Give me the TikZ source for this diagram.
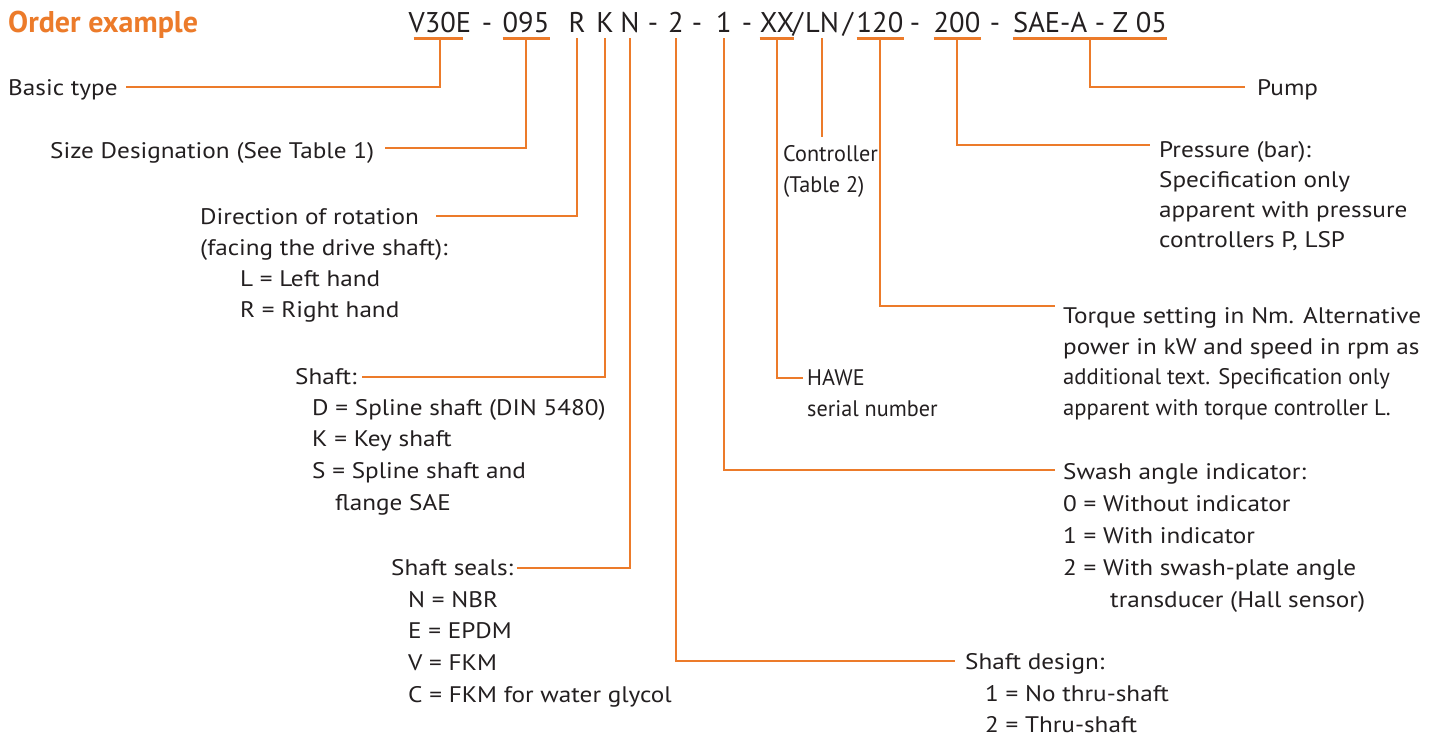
\documentclass[tikz,border=0pt]{standalone}
\usepackage{fontspec}
\setmainfont{PT Sans}
\newfontfamily\bodyf[FakeStretch=1.12]{PT Sans}
\definecolor{hor}{HTML}{EC7B2A}
\definecolor{htx}{HTML}{231F20}
\newcommand\lns[2][31.5pt]{\vtop{\baselineskip=#1\lineskiplimit=-100pt\halign{##\hfil\cr#2\crcr}}}
\newcommand\cnd[2][0.88]{\scalebox{#1}[1]{#2}}
\tikzset{
 conn/.style={draw=hor, line width=2.7pt},
 lbl/.style={inner sep=0pt, anchor=base west, text=htx, font=\bodyf\fontsize{22.5}{31.5}\selectfont},
 code/.style={inner sep=0pt, anchor=base, text=htx, font=\fontsize{28.5}{30}\selectfont, text depth=0pt},
}
\begin{document}
\begin{tikzpicture}[x=1pt,y=-1pt]
\useasboundingbox (0,0) rectangle (1439,740);
\node[inner sep=0pt, anchor=base west, font=\fontsize{30}{32}\selectfont\bfseries, text=hor] (title) at (8,32) {Order example};
% code string
\node[code] (c1) at (440,32) {V30E};
\node[code] (d1) at (487,32) {-};
\node[code] (c2) at (526,32) {095};
\node[code] (c3) at (577,32) {R};
\node[code] (c4) at (605,32) {K};
\node[code] (c5) at (630,32) {N};
\node[code] (d2) at (653,32) {-};
\node[code] (c6) at (676,32) {2};
\node[code] (d3) at (697,32) {-};
\node[code] (c7) at (724,32) {1};
\node[code] (d4) at (747,32) {-};
\node[code] (c8) at (777,32) {XX};
\node[code] (s1) at (798,32) {/};
\node[code] (c9) at (822,32) {LN};
\node[code] (s2) at (848,32) {/};
\node[code] (c10) at (880,32) {120};
\node[code] (d5) at (915,32) {-};
\node[code] (c11) at (957,32) {200};
\node[code] (d6) at (995,32) {-};
\node[code] (c12) at (1090,32) {SAE-A - Z 05};
\draw[conn] ([xshift=5pt,yshift=-6pt]c1.south west) -- ([xshift=-8pt,yshift=-6pt]c1.south east);
\foreach \n in {c2,c8,c10,c11,c12}
  \draw[conn] ([yshift=-6pt]\n.south west) -- ([yshift=-6pt]\n.south east);
% left labels
\node[lbl] (basic) at (8,95) {Basic type};
\node[lbl] (size) at (50,158) {Size Designation (See Table 1)};
\node[lbl] (dir) at (200,224) {Direction of rotation};
\node[lbl] (dirb) at (200,255) {\lns[31.3pt]{(facing the drive shaft):\cr\hspace*{40pt}L = Left hand\cr\hspace*{40pt}R = Right hand}};
\node[lbl] (shaft) at (295,384) {Shaft:};
\node[lbl] (shaftb) at (312,415) {\lns[31.7pt]{D = Spline shaft (DIN 5480)\cr K = Key shaft\cr S = Spline shaft and\cr\hspace*{23pt}flange SAE}};
\node[lbl] (seals) at (391,575) {Shaft seals:};
\node[lbl] (sealsb) at (408,607) {\lns[31.7pt]{N = NBR\cr E = EPDM\cr V = FKM\cr C = FKM for water glycol}};
% right labels
\node[lbl] (ctrl) at (783,161) {\cnd{Controller}};
\node[lbl] (ctrlb) at (783,192) {\cnd{(Table 2)}};
\node[lbl] (hawe) at (807,385) {\cnd{HAWE}};
\node[lbl] (haweb) at (807,416) {\cnd{serial number}};
\node[lbl] (pres) at (1159,157) {Pressure (bar):};
\node[lbl] (presb) at (1159,187) {\lns[30pt]{Specification only\cr apparent with pressure\cr controllers P, LSP}};
\node[lbl] (torq) at (1063,323) {Torque setting in Nm. Alternative};
\node[lbl] (torqb) at (1063,354) {\lns[30.7pt]{power in kW and speed in rpm as\cr \cnd[0.9]{additional text. Specification only}\cr \cnd[0.9]{apparent with torque controller L.}}};
\node[lbl] (swash) at (1063,479) {Swash angle indicator:};
\node[lbl] (swashb) at (1063,511) {\lns[32pt]{0 = Without indicator\cr 1 = With indicator\cr 2 = With swash-plate angle\cr\hspace*{47pt}transducer (Hall sensor)}};
\node[lbl] (sdes) at (965,669) {Shaft design:};
\node[lbl] (sdesb) at (985,701) {\lns[31.5pt]{1 = No thru-shaft\cr 2 = Thru-shaft}};
\node[lbl] (pump) at (1257,95) {Pump};
% connectors
\draw[conn] ([yshift=-6pt]c1.south) |- ([xshift=8pt,yshift=8pt]basic.base east);
\draw[conn] ([yshift=-6pt]c2.south) |- ([xshift=11pt,yshift=10pt]size.base east);
\draw[conn] ([yshift=-6pt]c3.south) |- ([xshift=17pt,yshift=8pt]dir.base east);
\draw[conn] ([yshift=-6pt]c4.south) |- ([xshift=5pt,yshift=7pt]shaft.base east);
\draw[conn] ([yshift=-6pt]c5.south) |- ([xshift=4pt,yshift=7pt]seals.base east);
\draw[conn] ([yshift=-6pt]c6.south) |- ([xshift=-10pt,yshift=8pt]sdes.base west);
\draw[conn] ([yshift=-6pt]c7.south) |- ([xshift=-8pt,yshift=9pt]swash.base west);
\draw[conn] ([yshift=-6pt]c8.south) |- ([xshift=-4pt,yshift=7pt]hawe.base west);
\draw[conn] ([yshift=-6pt]c9.south) -- ([yshift=24pt]c9.south |- ctrl.base);
\draw[conn] ([yshift=-6pt]c10.south) |- ([xshift=-8pt,yshift=17pt]torq.base west);
\draw[conn] ([yshift=-6pt]c11.south) |- ([xshift=-9pt,yshift=12pt]pres.base west);
\draw[conn] ([yshift=-6pt]c12.south) |- ([xshift=-12pt,yshift=8pt]pump.base west);
\end{tikzpicture}
\end{document}
